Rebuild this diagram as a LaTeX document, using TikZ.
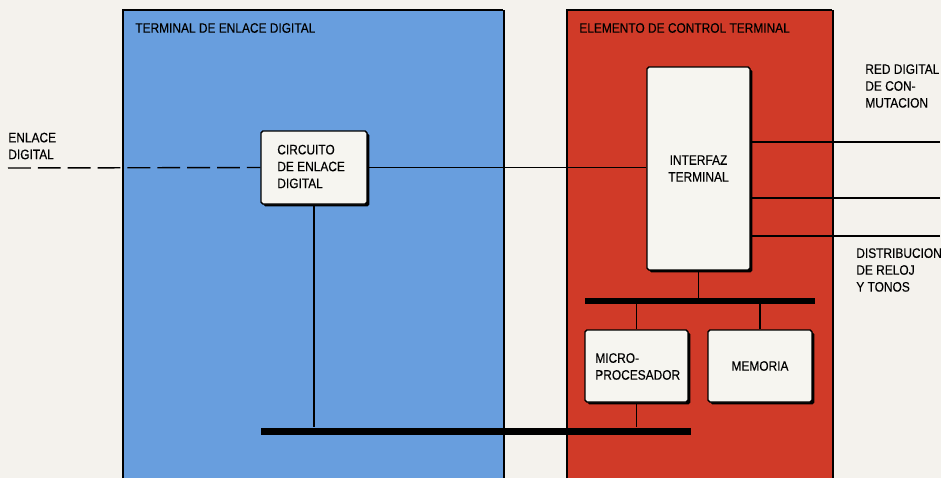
\documentclass[tikz,border=0pt]{standalone}
\usepackage{fontspec}
\setmainfont[FakeStretch=0.87,FakeBold=0.3]{Liberation Sans}
\usetikzlibrary{positioning,shadows}
\definecolor{paper}{RGB}{244,242,237}
\definecolor{panelblue}{RGB}{104,158,222}
\definecolor{panelred}{RGB}{208,58,40}
\definecolor{boxfill}{RGB}{246,245,240}

\begin{document}
\begin{tikzpicture}[x=0.02cm,y=-0.02cm]
  \tikzstyle{lbl}=[font=\fontsize{7.8}{9.6}\selectfont,inner sep=0pt,align=left]
  \tikzstyle{blk}=[draw,line width=0.8pt,fill=boxfill,rounded corners=1pt,inner sep=0pt,
    font=\fontsize{7.8}{9.6}\selectfont,
    drop shadow={shadow xshift=1.3pt,shadow yshift=-1.3pt,fill=black,opacity=1}]
  \tikzstyle{busbar}=[fill=black,inner sep=0pt]
  \tikzstyle{wire}=[line width=0.8pt]

  % background and panels
  \fill[paper] (0,0) rectangle (941,478);
  \useasboundingbox (0,0) rectangle (941,478);
  \fill[panelblue] (123,10) rectangle (505,478);
  \draw[line width=0.85pt] (123,478) -- (123,10) -- (503,10);
  \draw[line width=1.6pt] (504,10) -- (504,478);
  \fill[panelred] (567,10) rectangle (834,478);
  \draw[line width=0.85pt] (567,478) -- (567,10) -- (832,10);
  \draw[line width=1.6pt] (833,10) -- (833,478);

  \node[lbl,anchor=west] (ttlA) at (135,28) {TERMINAL DE ENLACE DIGITAL};
  \node[lbl,anchor=west] (ttlB) at (579,28) {ELEMENTO DE CONTROL TERMINAL};

  % blocks
  \node[blk,minimum width=2.12cm,minimum height=1.46cm] (cir) at (314,167.5) {};
  \node[lbl,anchor=west] (cirtxt) at (277,166.5) {CIRCUITO\\DE ENLACE\\DIGITAL};
  \node[blk,minimum width=2.06cm,minimum height=4.06cm,align=center] (int) at (698.5,168.5) {INTERFAZ\\TERMINAL};
  \node[blk,minimum width=2.06cm,minimum height=1.44cm] (mic) at (636.5,366) {};
  \node[lbl,anchor=west] (mictxt) at (595,366.5) {MICRO-\\PROCESADOR};
  \node[blk,minimum width=2.08cm,minimum height=1.44cm] (mem) at (760,366) {MEMORIA};

  % buses
  \node[busbar,minimum width=4.6cm,minimum height=0.12cm] (busA) at (700,301) {};
  \node[busbar,minimum width=8.6cm,minimum height=0.14cm] (busB) at (476,431) {};

  % outside labels
  \node[lbl,anchor=west] (enl) at (8,146) {ENLACE\\DIGITAL};
  \node[lbl,anchor=west] (red) at (865,86) {RED DIGITAL\\DE CON-\\MUTACION};
  \node[lbl,anchor=west] (dis) at (856,270) {DISTRIBUCION\\DE RELOJ\\Y TONOS};

  \coordinate (inl) at (8,168);
  \coordinate (o1) at (940,142);
  \coordinate (o2) at (940,198);
  \coordinate (o3) at (940,236);

  % connectors
  \draw[wire,dash pattern=on 13pt off 4pt] (inl) -- (cir.west);
  \draw[wire] (cir.east) -- (int.west |- cir.east);
  \draw[wire] (int.east |- o1) -- (o1);
  \draw[wire] (int.east |- o2) -- (o2);
  \draw[wire] (int.east |- o3) -- (o3);
  \draw[wire] (int.south) -- (int.south |- busA.north);
  \draw[wire] (busA.south -| mic) -- (mic.north);
  \draw[wire] (busA.south -| mem) -- (mem.north);
  \draw[wire] (mic.south) -- (mic.south |- busB.north);
  \draw[wire] (cir.south) -- (cir.south |- busB.north);
\end{tikzpicture}
\end{document}
